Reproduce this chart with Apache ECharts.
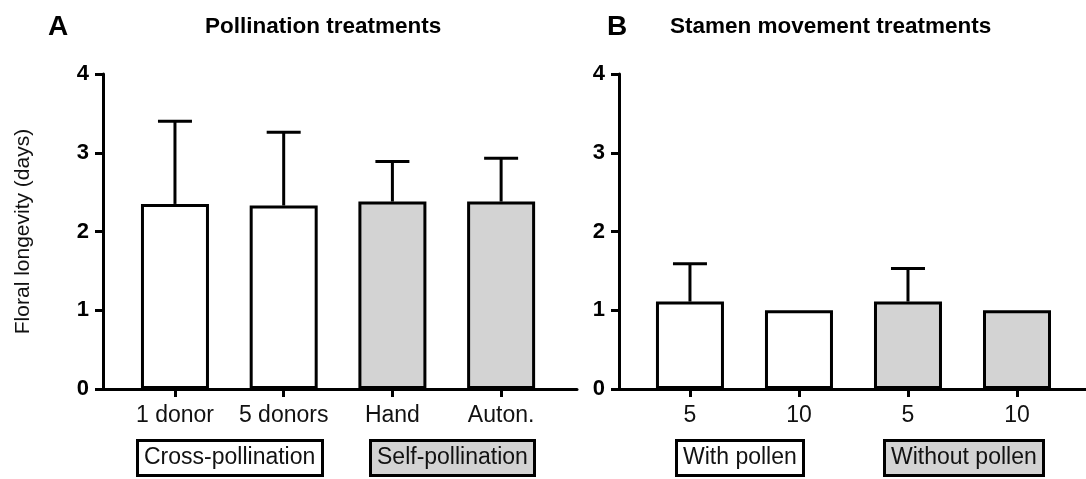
<!DOCTYPE html>
<html>
<head>
<meta charset="utf-8">
<script src="https://cdn.jsdelivr.net/npm/echarts@6/dist/echarts.min.js"></script>
<style>
html,body{margin:0;padding:0;background:#fff;}
#chart{width:1086px;height:479px;}
</style>
</head>
<body>
<div id="chart"></div>
<script>
// ---- data ----
const catsA = ['1 donor', '5 donors', 'Hand', 'Auton.'];
const meansA = [2.35, 2.33, 2.38, 2.38];
const errA = [1.05, 0.93, 0.51, 0.55];
const groupA = ['Cross-pollination', 'Cross-pollination', 'Self-pollination', 'Self-pollination'];

const catsB = ['5', '10', '5', '10'];
const meansB = [1.11, 1.0, 1.11, 1.0];
const errB = [0.48, 0, 0.42, 0];
const groupB = ['With pollen', 'With pollen', 'Without pollen', 'Without pollen'];

const yTicks = [0, 1, 2, 3, 4];

// ---- styles ----
const FONT = '"Liberation Sans", Arial, Helvetica, sans-serif';
const fillFor = g => (g === 'Self-pollination' || g === 'Without pollen') ? '#d3d3d3' : '#ffffff';
const idx = [0, 1, 2, 3];

function barData(means, groups) {
  return means.map((m, i) => ({ value: [i, m], itemStyle: { color: fillFor(groups[i]) } }));
}
function errData(means, errs) {
  return means.map((m, i) => [i, m, m + errs[i]]);
}
function renderErr(params, api) {
  const lo = api.coord([api.value(0), api.value(1)]);
  const hi = api.coord([api.value(0), api.value(2)]);
  if (Math.abs(hi[1] - lo[1]) < 0.5) return null;
  const half = 17;
  const st = { stroke: '#000', lineWidth: 3 };
  return {
    type: 'group',
    children: [
      { type: 'line', shape: { x1: lo[0], y1: lo[1], x2: hi[0], y2: hi[1] }, style: st },
      { type: 'line', shape: { x1: hi[0] - half, y1: hi[1], x2: hi[0] + half, y2: hi[1] }, style: st }
    ]
  };
}

function xAxisFor(gridIndex, cats, min, max) {
  return {
    type: 'value', gridIndex, min, max,
    splitLine: { show: false },
    axisLine: { show: true, onZero: false, lineStyle: { color: '#000', width: 3 } },
    axisTick: { show: true, customValues: idx, length: 8, lineStyle: { color: '#000', width: 3 } },
    axisLabel: {
      customValues: idx, margin: 15,
      formatter: v => cats[Math.round(v)],
      color: '#111', fontSize: 23, fontFamily: FONT
    }
  };
}
function yAxisFor(gridIndex, name) {
  return {
    type: 'value', gridIndex, min: 0, max: 4, interval: 1,
    name: name, nameLocation: 'middle', nameGap: 69, nameRotate: 90,
    nameTextStyle: { color: '#111', fontSize: 21, fontFamily: FONT },
    splitLine: { show: false },
    axisLine: { show: true, onZero: false, lineStyle: { color: '#000', width: 3 } },
    axisTick: { show: true, length: 8, lineStyle: { color: '#000', width: 3 } },
    axisLabel: {
      margin: 14, color: '#000', fontSize: 22, fontWeight: 'bold', fontFamily: FONT,
      formatter: v => yTicks.indexOf(v) >= 0 ? String(v) : ''
    }
  };
}
function boxTitle(text, group, left) {
  return {
    text: text, left: left, top: 440,
    padding: [4, 7, 5, 7],
    backgroundColor: fillFor(group), borderColor: '#000', borderWidth: 3,
    textStyle: { color: '#111', fontSize: 23, fontWeight: 'normal', fontFamily: FONT, lineHeight: 27 }
  };
}

const chart = echarts.init(document.getElementById('chart'), null, { renderer: 'canvas' });
chart.setOption({
  animation: false,
  backgroundColor: '#fff',
  title: [
    { text: 'A', left: 43, top: 8, textStyle: { fontSize: 28, fontWeight: 'bold', color: '#000', fontFamily: FONT } },
    { text: 'Pollination treatments', left: 200, top: 10, textStyle: { fontSize: 22.5, fontWeight: 'bold', color: '#000', fontFamily: FONT } },
    { text: 'B', left: 602, top: 8, textStyle: { fontSize: 28, fontWeight: 'bold', color: '#000', fontFamily: FONT } },
    { text: 'Stamen movement treatments', left: 665, top: 10, textStyle: { fontSize: 22.5, fontWeight: 'bold', color: '#000', fontFamily: FONT } },
    boxTitle(groupA[0], groupA[0], 137),
    boxTitle(groupA[2], groupA[2], 370),
    boxTitle(groupB[0], groupB[0], 676),
    boxTitle(groupB[2], groupB[2], 884)
  ],
  grid: [
    { left: 103, top: 74, width: 474, height: 315, containLabel: false },
    { left: 619, top: 74, width: 467, height: 315, containLabel: false }
  ],
  xAxis: [
    xAxisFor(0, catsA, -0.662, 3.698),
    xAxisFor(1, catsB, -0.651, 3.633)
  ],
  yAxis: [
    yAxisFor(0, 'Floral longevity (days)'),
    yAxisFor(1, '')
  ],
  series: [
    { type: 'bar', xAxisIndex: 0, yAxisIndex: 0, barWidth: 68, data: barData(meansA, groupA),
      itemStyle: { borderColor: '#000', borderWidth: 3 }, z: 2 },
    { type: 'custom', xAxisIndex: 0, yAxisIndex: 0, data: errData(meansA, errA), renderItem: renderErr, z: 3 },
    { type: 'bar', xAxisIndex: 1, yAxisIndex: 1, barWidth: 68, data: barData(meansB, groupB),
      itemStyle: { borderColor: '#000', borderWidth: 3 }, z: 2 },
    { type: 'custom', xAxisIndex: 1, yAxisIndex: 1, data: errData(meansB, errB), renderItem: renderErr, z: 3 }
  ]
});
</script>
</body>
</html>
